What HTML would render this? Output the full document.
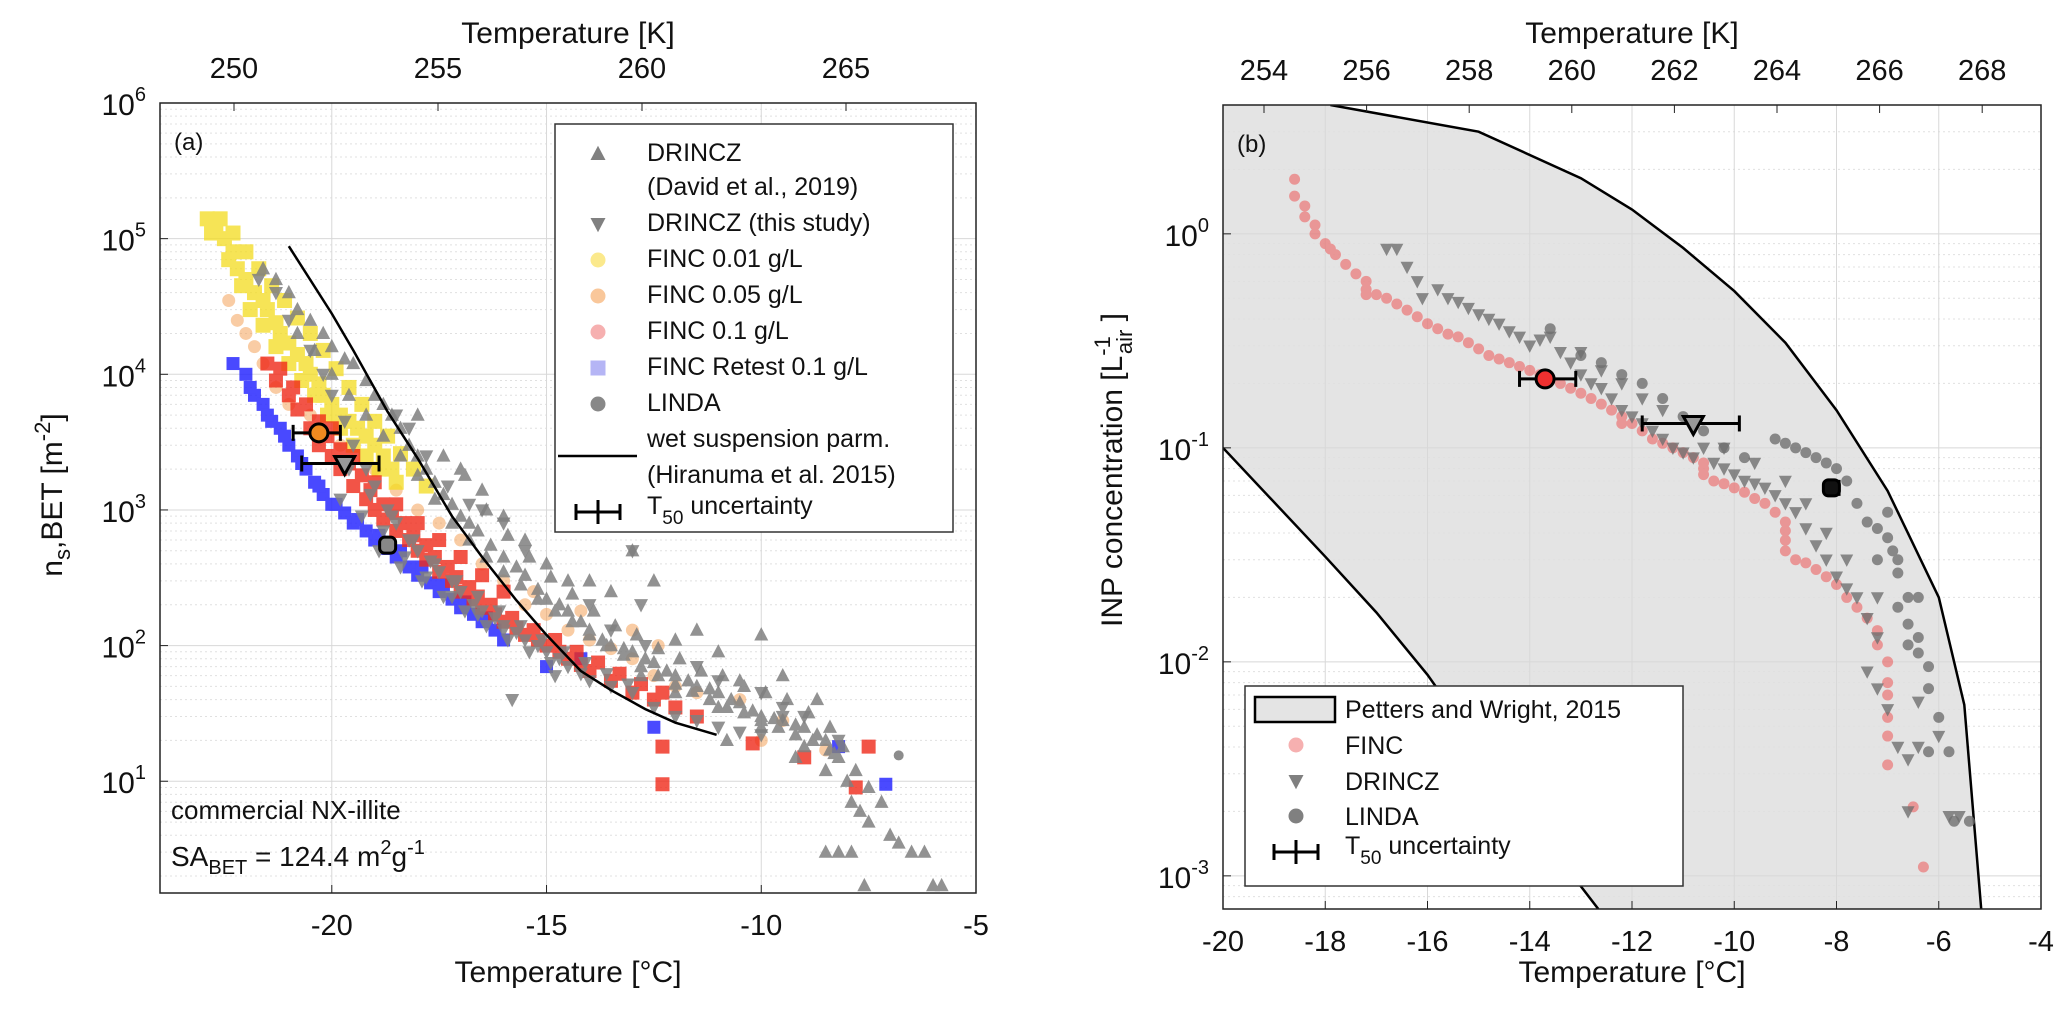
<!DOCTYPE html>
<html><head><meta charset="utf-8"><style>
html,body{margin:0;padding:0;background:#fff;}
svg{display:block;font-family:"Liberation Sans",Arial,sans-serif;}
</style></head><body>
<svg id="fig" width="2067" height="1034" viewBox="0 0 2067 1034"></svg>
<script>
// ---------- Panel (a) data: [T °C, ns value] ----------
const aDavid=[[-21.6,6e4],[-21.3,5e4],[-21,4e4],[-20.8,3e4],[-20.5,2.5e4],[-20.2,2e4],[-20,1.6e4],[-19.7,1.3e4],[-19.5,1.2e4],[-19.2,9e3],[-19,7e3],[-18.8,6e3],[-18.6,5e3],[-18.4,4e3],[-18.2,3e3],[-18,2.5e3],[-17.8,2e3],[-17.6,1.6e3],[-17.4,1.3e3],[-17.2,1.1e3],[-17,900],[-16.8,800],[-16.6,700],[-16.3,550],[-16,450],[-15.7,380],[-15.5,330],[-15.2,260],[-15,220],[-14.7,200],[-14.5,180],[-14.2,150],[-14,130],[-13.7,110],[-13.5,100],[-13.2,95],[-13,90],[-12.7,80],[-12.5,75],[-12.2,65],[-12,60],[-11.7,55],[-11.5,50],[-11.2,48],[-11,45],[-10.7,40],[-10.5,38],[-10.2,33],[-10,30],[-9.7,29],[-9.5,28],[-9.2,26],[-9,25],[-8.7,22],[-8.5,20],[-8.3,16],[-8.2,15],[-8,10],[-7.9,7],[-7.7,6],[-7.5,5],[-7.2,7],[-7,4],[-6.8,3.5],[-6.5,3],[-6.2,3],[-6,1.7],[-5.8,1.7],[-7.6,1.7],[-8.2,3],[-8.5,3],[-7.9,3],[-13,500],[-13.5,250],[-12.5,300],[-11.5,130],[-10,120],[-11,90],[-12,110],[-14,300],[-15,400],[-16,900],[-17,2e3],[-18,5e3],[-16.5,1.4e3],[-15.5,600],[-14.5,300],[-9.5,60],[-8.7,40],[-10.5,55],[-12.8,60],[-12,45],[-11,35],[-10,25],[-9,18],[-8.5,12],[-9.2,15],[-10.8,20],
[-20.8,2e4],[-20.4,1.5e4],[-20,1e4],[-19.6,7e3],[-19.2,5e3],[-18.8,3.5e3],[-18.4,2.5e3],[-18,1.8e3],[-17.6,1.2e3],[-17.2,800],[-16.8,600],[-16.4,450],[-16,350],[-15.6,280],[-15.2,220],[-14.8,180],[-14.4,150],[-14,120],[-13.6,100],[-13.2,85],[-12.8,70],[-12.4,60],[-12,52],[-11.6,46],[-11.2,40],[-10.8,35],[-10.4,32],[-10,28],[-9.6,25],[-9.2,22],[-8.8,20],[-8.4,17],[-17.4,2.5e3],[-16.9,1.8e3],[-16.4,1e3],[-15.9,650],[-15.4,450],[-14.9,320],[-14.4,240],[-13.9,180],[-13.4,140],[-12.9,120],[-12.4,95],[-11.9,80],[-11.4,65],[-10.9,60],[-10.4,50],[-9.9,45],[-9.4,40],[-8.9,32],[-8.4,25],[-8.1,18],[-7.8,12],[-7.5,9]];
const aThis=[[-21.7,5e4],[-21.3,4e4],[-21,2.5e4],[-20.5,1.5e4],[-20.2,1e4],[-20,7e3],[-19.7,4.5e3],[-19.5,3e3],[-19.2,2e3],[-19,1.5e3],[-18.7,1e3],[-18.5,800],[-18.2,600],[-18,500],[-17.7,420],[-17.5,350],[-17.2,300],[-17,250],[-16.7,200],[-16.5,180],[-16.2,160],[-16,140],[-15.7,125],[-15.5,110],[-15.2,100],[-15,90],[-14.7,80],[-14.5,70],[-14.2,62],[-14,55],[-13.5,50],[-13,45],[-12.5,35],[-12,30],[-11.5,28],[-11,25],[-10.5,23],[-10,22],[-9.5,30],[-9,30],[-8.2,20],[-18.5,5e3],[-18.2,4e3],[-17.8,2.5e3],[-17.3,1.5e3],[-16.8,1.1e3],[-16.5,1e3],[-16,800],[-15.5,500],[-13,500],[-12.7,100],[-12.8,200],[-15.8,40],[-14.8,60],[-14,200],[-13.5,130],[-11.5,70],[-11,55],[-10,45],[-9.5,35],[-19.8,1.2e3],[-19.3,900],[-18.8,700],[-18.3,450],[-17.8,320],[-17.2,230],[-16.6,170],[-16,130],
[-19.6,2e3],[-19.1,1.3e3],[-18.6,900],[-18.1,600],[-17.6,400],[-17.1,300],[-16.6,230],[-16.1,180],[-15.6,140],[-15.1,110],[-14.6,90],[-14.1,75],[-13.6,62],[-13.1,52],[-18.9,500],[-18.4,380],[-17.9,300],[-17.4,230],[-16.9,180],[-16.4,140],[-15.9,110],[-15.4,90],[-14.9,75]];
const aF001=[[-22.9,1.4e5],[-22.7,1.2e5],[-22.5,1e5],[-22.3,8e4],[-22.2,6e4],[-22,5e4],[-21.8,4e4],[-21.6,3.5e4],[-21.5,3e4],[-21.3,2.4e4],[-21.2,2e4],[-21,1.7e4],[-20.8,1.4e4],[-20.6,1.2e4],[-20.5,1e4],[-20.3,8.5e3],[-20.2,7e3],[-20,6e3],[-19.8,5e3],[-19.6,4.5e3],[-19.4,4e3],[-19.2,3.5e3],[-19,3e3],[-18.8,2.5e3],[-18.6,2e3],[-22.6,1.4e5],[-22.3,1.1e5],[-22,8e4],[-21.7,6e4],[-21.4,4.5e4],[-21.1,3.5e4],[-20.8,2.6e4],[-20.5,2e4],[-20.2,1.5e4],[-19.9,1.1e4],[-19.6,8e3],[-19.3,6e3],[-19,4.5e3],[-18.7,3.5e3],[-18.4,2.6e3],[-18.1,2e3],[-17.8,1.5e3],
[-22.8,1.1e5],[-22.4,7e4],[-22.1,4.5e4],[-21.9,3e4],[-21.6,2.3e4],[-21.3,1.6e4],[-21,1.2e4],[-20.7,9e3],[-20.4,7e3],[-20.1,5e3],[-19.8,4e3],[-19.5,3e3],[-19.2,2.5e3],[-18.9,2e3],[-18.5,1.6e3]];
const aF005=[[-22.4,3.5e4],[-22.2,2.5e4],[-22,2e4],[-21.8,1.6e4],[-21.6,1.2e4],[-21.3,8e3],[-21,6e3],[-17.5,800],[-17,600],[-16.5,400],[-16,300],[-15.5,200],[-15,170],[-14.5,130],[-14,110],[-13.5,95],[-13,80],[-12.5,60],[-12,50],[-11.5,45],[-10.5,40],[-10,20],[-9.5,28],[-8.5,17],[-13,130],[-12.4,100],[-15.3,250],[-14.2,180],[-19,2e3],[-18.5,1.4e3],[-18,1e3],[-19.8,3e3],[-20.5,5e3]];
const aF01=[[-21.5,1.2e4],[-21.3,9e3],[-21,7e3],[-20.8,5.5e3],[-20.5,4e3],[-20.3,3e3],[-20,2.5e3],[-19.8,2e3],[-19.5,1.5e3],[-19.2,1.2e3],[-19,1e3],[-18.8,850],[-18.5,700],[-18.2,600],[-18,500],[-17.8,430],[-17.5,350],[-17.2,300],[-17,250],[-16.7,220],[-16.5,190],[-16.2,170],[-16,150],[-15.7,135],[-15.5,120],[-15.2,110],[-15,100],[-14.7,90],[-14.5,80],[-14.2,72],[-14,65],[-13.5,55],[-13,45],[-12.5,40],[-12,35],[-11.5,30],[-12.3,9.5],[-12.3,18],[-10.2,19],[-9,15],[-7.5,18],[-7.8,9],[-20,4e3],[-19.5,2.5e3],[-19,1.6e3],[-18.5,1.1e3],[-18,800],[-17.5,600],[-17,450],[-16.5,330],[-16,250],
[-21.2,1.1e4],[-20.9,8e3],[-20.6,6e3],[-20.3,4.5e3],[-20.1,3.5e3],[-19.8,2.8e3],[-19.6,2.2e3],[-19.3,1.8e3],[-19.1,1.4e3],[-18.8,1.1e3],[-18.6,950],[-18.3,800],[-18.1,650],[-17.8,550],[-17.6,450],[-17.3,380],[-17.1,320],[-16.8,270],[-16.6,230],[-16.3,200],[-15.8,160],[-15.3,130],[-14.8,110],[-14.3,90],[-13.8,75],[-13.3,62],[-12.8,52],[-12.3,45]];
const aRet=[[-22.3,1.2e4],[-22,1e4],[-21.8,7e3],[-21.6,6e3],[-21.4,4.5e3],[-21.2,4e3],[-21,3e3],[-20.8,2.5e3],[-20.6,2e3],[-20.4,1.6e3],[-20.2,1.3e3],[-20,1.1e3],[-19.7,950],[-19.5,800],[-19.2,700],[-19,600],[-18.7,520],[-18.5,450],[-18.2,380],[-18,330],[-17.7,290],[-17.5,250],[-17.2,220],[-17,190],[-16.7,170],[-16.5,150],[-16.2,130],[-16,110],[-15,70],[-14.2,80],[-12.5,25],[-8.2,18],[-7.1,9.5],
[-21.9,8e3],[-21.5,5e3],[-21.1,3.5e3],[-20.7,2.2e3],[-20.3,1.5e3],[-19.9,1.1e3],[-19.4,850],[-18.9,650],[-18.4,500],[-17.9,380],[-17.4,280],[-16.9,210],[-16.4,160]];
const aLinda=[[-6.8,15.5]];
const aWetT=[-21,-20,-19.5,-18.7,-18,-17.2,-16.5,-15.7,-15,-14.2,-13.5,-12.7,-12,-11.04];
const aWetV=[8.8e4,2.8e4,1.5e4,5.3e3,2.4e3,900,450,215,120,65,47,34,27,22];
const aT50T=[-20.3,-19.7,-18.7];const aT50V=[3700,2200,550];
const aT50Lo=[-20.9,-20.7,-18.8];const aT50Hi=[-19.8,-18.9,-18.6];
// ---------- Panel (b) data ----------
const bFinc=[[-18.6,1.8],[-18.6,1.5],[-18.4,1.35],[-18.4,1.2],[-18.2,1.1],[-18.2,1.0],[-18,0.9],[-17.9,0.85],[-17.8,0.8],[-17.6,0.72],[-17.4,0.65],[-17.2,0.6],[-17.2,0.55],[-17.2,0.52],[-17,0.52],[-16.8,0.5],[-16.6,0.47],[-16.4,0.44],[-16.2,0.41],[-16,0.38],[-15.8,0.36],[-15.6,0.34],[-15.4,0.33],[-15.2,0.31],[-15,0.29],[-14.8,0.27],[-14.6,0.26],[-14.4,0.25],[-14.2,0.24],[-14,0.23],[-13.8,0.22],[-13.6,0.21],[-13.4,0.2],[-13.2,0.19],[-13,0.18],[-12.8,0.17],[-12.6,0.16],[-12.4,0.15],[-12.2,0.14],[-12.2,0.13],[-12,0.13],[-11.8,0.12],[-11.6,0.11],[-11.4,0.105],[-11.2,0.1],[-11,0.095],[-10.8,0.09],[-10.6,0.085],[-10.6,0.08],[-10.6,0.075],[-10.4,0.07],[-10.2,0.068],[-10,0.065],[-9.8,0.062],[-9.6,0.058],[-9.4,0.055],[-9.2,0.05],[-9,0.045],[-9,0.041],[-9,0.037],[-9,0.033],[-8.8,0.03],[-8.6,0.029],[-8.4,0.027],[-8.2,0.025],[-8,0.023],[-7.8,0.02],[-7.6,0.018],[-7.4,0.016],[-7.2,0.014],[-7.2,0.012],[-7,0.01],[-7,0.008],[-7,0.007],[-7,0.0055],[-7,0.0045],[-7,0.0033],[-6.5,0.0021],[-6.3,0.0011]];
const bDrincz=[[-16.8,0.85],[-16.6,0.85],[-16.4,0.7],[-16.2,0.6],[-16.1,0.5],[-15.8,0.55],[-15.6,0.5],[-15.4,0.48],[-15.2,0.45],[-15,0.42],[-14.8,0.4],[-14.6,0.38],[-14.4,0.35],[-14.2,0.33],[-14,0.3],[-13.8,0.32],[-13.6,0.33],[-13.4,0.28],[-13.2,0.25],[-13,0.22],[-12.8,0.2],[-12.6,0.19],[-12.4,0.17],[-12.2,0.15],[-12,0.14],[-11.8,0.13],[-11.6,0.12],[-11.4,0.11],[-11.2,0.1],[-11,0.095],[-10.8,0.09],[-10.6,0.1],[-10.4,0.085],[-10.2,0.08],[-10,0.075],[-9.8,0.07],[-9.6,0.068],[-9.4,0.065],[-9.2,0.06],[-9,0.055],[-8.8,0.05],[-8.6,0.042],[-8.4,0.035],[-8.2,0.03],[-8,0.025],[-7.8,0.022],[-7.6,0.02],[-7.4,0.016],[-7.2,0.013],[-7.4,0.009],[-7.2,0.0075],[-7,0.006],[-6.8,0.004],[-6.6,0.0035],[-6.6,0.002],[-6.4,0.004],[-6.4,0.0065],[-6,0.0045],[-5.8,0.0019],[-5.6,0.0019],[-13,0.28],[-12.6,0.23],[-12.2,0.2],[-11.8,0.17],[-11.4,0.15],[-10.2,0.1],[-9.6,0.085],[-9,0.07],[-8.6,0.055],[-8.2,0.04],[-7.8,0.03],[-7.2,0.02]];
const bLinda=[[-13.6,0.36],[-13,0.27],[-12.6,0.25],[-12.2,0.22],[-11.8,0.2],[-11.4,0.17],[-11,0.14],[-10.6,0.12],[-10.2,0.1],[-9.8,0.09],[-9.2,0.11],[-9,0.105],[-8.8,0.1],[-8.6,0.095],[-8.4,0.09],[-8.2,0.085],[-8,0.08],[-7.8,0.07],[-7.6,0.055],[-7.4,0.045],[-7.2,0.042],[-7,0.038],[-6.9,0.033],[-6.8,0.03],[-6.8,0.026],[-6.6,0.02],[-6.6,0.015],[-6.4,0.013],[-6.4,0.011],[-6.2,0.0095],[-6.2,0.0075],[-6,0.0055],[-6.2,0.0038],[-5.8,0.0038],[-5.7,0.0018],[-5.4,0.0018],[-6.4,0.02],[-6.6,0.012],[-7,0.05],[-7.2,0.03],[-6.8,0.018]];
const bUpperT=[-17.9,-15,-13,-12,-11,-10,-9,-8,-7,-6,-5.5,-5.17];
const bUpperV=[4.0,3.0,1.82,1.3,0.86,0.54,0.31,0.15,0.063,0.02,0.0063,0.0007];
const bLowerT=[-20,-18,-17,-16,-14.9,-13.9,-12.66];
const bLowerV=[0.1,0.031,0.017,0.0087,0.0037,0.0017,0.0007];
const bT50T=[-13.7,-10.8,-8.1];const bT50V=[0.21,0.13,0.065];
const bT50Lo=[-14.2,-11.8,-8.2];const bT50Hi=[-13.1,-9.9,-7.95];
const aXTicks=[-20,-15,-10,-5];const aKTicks=[250,255,260,265];
const bXTicks=[-20,-18,-16,-14,-12,-10,-8,-6,-4];const bKTicks=[254,256,258,260,262,264,266,268];

const NS='http://www.w3.org/2000/svg';
const svg=document.getElementById('fig');
function el(tag,attrs,parent){const e=document.createElementNS(NS,tag);for(const k in attrs)e.setAttribute(k,attrs[k]);(parent||svg).appendChild(e);return e;}
function txt(x,y,s,size,anchor,parent){const t=el('text',{x:x,y:y,'font-size':size,'text-anchor':anchor||'middle',fill:'#111'},parent);t.innerHTML=s;return t;}

const A={x0:160,x1:976,y0:103,y1:893,tmin:-24,tmax:-5,lmin:Math.log10(1.5),lmax:6};
const B={x0:1223,x1:2041,y0:105,y1:909,tmin:-20,tmax:-4,lmin:Math.log10(7e-4),lmax:Math.log10(4)};
function X(P,t){return P.x0+(t-P.tmin)/(P.tmax-P.tmin)*(P.x1-P.x0);}
function Y(P,v){return P.y1-(Math.log10(v)-P.lmin)/(P.lmax-P.lmin)*(P.y1-P.y0);}

function grid(P,name,xt,decMin,decMax){
  const g=el('g',{});
  
  
  for(let d=decMin;d<=decMax;d++){for(let m=1;m<10;m++){const v=m*Math.pow(10,d);const y=Y(P,v);if(y<P.y0||y>P.y1)continue;
    el('line',{x1:P.x0,x2:P.x1,y1:y,y2:y,stroke:m==1?'#d8d8d8':'#e0e0e0','stroke-width':1,'stroke-dasharray':m==1?'':'2,3'},g);}}
  xt.forEach(t=>{const x=X(P,t);if(x>P.x0&&x<P.x1)el('line',{x1:x,x2:x,y1:P.y0,y2:P.y1,stroke:'#d8d8d8','stroke-width':1},g);});
}
function frame(P,name,xt,kt,kx,ylabels){
  const g=el('g',{});
  
  
  el('rect',{x:P.x0,y:P.y0,width:P.x1-P.x0,height:P.y1-P.y0,fill:'none',stroke:'#222','stroke-width':1.5},g);
  xt.forEach(t=>{const x=X(P,t);el('line',{x1:x,x2:x,y1:P.y1,y2:P.y1-8,stroke:'#222'},g);txt(x,P.y1+42,String(t),29,'middle',g);});
  kt.forEach((k,i)=>{const x=kx(k);el('line',{x1:x,x2:x,y1:P.y0,y2:P.y0+8,stroke:'#222'},g);txt(x,P.y0-25,k,29,'middle',g);});
  ylabels.forEach(d=>{const y=Y(P,Math.pow(10,d));el('line',{x1:P.x0,x2:P.x0+8,y1:y,y2:y,stroke:'#222'},g);
    txt(P.x0-14,y+12,'10<tspan dy="-14" font-size="20">'+d+'</tspan>',30,'end',g);});
}
function scatter(P,pts,shape,color,op,size,name){
  const g=el('g',{opacity:op});
  
  
  pts.forEach(p=>{const x=X(P,p[0]),y=Y(P,p[1]);if(y<P.y0||y>P.y1)return;marker(g,x,y,shape,color,size);});
}
function marker(g,x,y,shape,color,s){
  if(shape=='o')el('circle',{cx:x,cy:y,r:s/2,fill:color},g);
  else if(shape=='s')el('rect',{x:x-s/2,y:y-s/2,width:s,height:s,fill:color},g);
  else if(shape=='^')el('polygon',{points:`${x},${y-s*0.55} ${x-s/2},${y+s*0.4} ${x+s/2},${y+s*0.4}`,fill:color},g);
  else el('polygon',{points:`${x},${y+s*0.55} ${x-s/2},${y-s*0.4} ${x+s/2},${y-s*0.4}`,fill:color},g);
}
function errbars(P,T,V,Lo,Hi,shapes,fills,name){
  const g=el('g',{});
  
  
  T.forEach((t,i)=>{const x=X(P,t),y=Y(P,V[i]),a=X(P,Lo[i]),b=X(P,Hi[i]);
    el('line',{x1:a,x2:b,y1:y,y2:y,stroke:'#000','stroke-width':3},g);
    el('line',{x1:a,x2:a,y1:y-8,y2:y+8,stroke:'#000','stroke-width':3},g);
    el('line',{x1:b,x2:b,y1:y-8,y2:y+8,stroke:'#000','stroke-width':3},g);
    const s=shapes[i];
    if(s=='o')el('circle',{cx:x,cy:y,r:9,fill:fills[i],stroke:'#000','stroke-width':3},g);
    else if(s=='v')el('polygon',{points:`${x},${y+11} ${x-10},${y-7} ${x+10},${y-7}`,fill:fills[i],stroke:'#000','stroke-width':3},g);
    else el('rect',{x:x-8,y:y-8,width:16,height:16,rx:5,fill:fills[i],stroke:'#000','stroke-width':3},g);
  });
}
function line(P,T,V,name,parent){const d=T.map((t,i)=>(i?'L':'M')+X(P,t).toFixed(1)+','+Y(P,V[i]).toFixed(1)).join(' ');
  const p=el('path',{d:d,fill:'none',stroke:'#000','stroke-width':2.5},parent);
  
  return p;}

// ===== Panel A =====
const clipA=el('clipPath',{id:'ca'});el('rect',{x:A.x0,y:A.y0,width:A.x1-A.x0,height:A.y1-A.y0},clipA);
grid(A,'panel-a',aXTicks,0,6);
scatter(A,aF005,'o','#f5a35a',0.55,13,'finc-005-points');
scatter(A,aF001,'s','#f4dc1e',0.75,15,'finc-001-points');
scatter(A,aRet,'s','#2a2aff',0.85,13,'finc-retest-points');
scatter(A,aF01,'s','#f02a1a',0.8,14,'finc-01-points');
scatter(A,aThis,'v','#808080',0.85,14,'drincz-this-study-points');
scatter(A,aDavid,'^','#808080',0.85,14,'drincz-david-points');
scatter(A,aLinda,'o','#808080',0.9,10,'linda-points');
line(A,aWetT,aWetV,'wet-suspension-curve');
errbars(A,aT50T,aT50V,aT50Lo,aT50Hi,['o','v','s'],['#f08a20','#999','#888'],'panel-a-t50-markers');
frame(A,'panel-a',aXTicks,aKTicks,k=>234+(k-250)*40.8,[1,2,3,4,5,6]);
txt(568,43,'Temperature [K]',30,'middle');
txt(568,982,'Temperature [°C]',30,'middle');
{const t=txt(0,0,'n<tspan dy="8" font-size="22">s</tspan><tspan dy="-8">,BET [m</tspan><tspan dy="-12" font-size="22">-2</tspan><tspan dy="12">]</tspan>',30,'middle');
 t.setAttribute('transform','translate(62,495) rotate(-90)');}
txt(174,150,'(a)',24,'start');
txt(171,819,'commercial NX-illite',26,'start');
txt(171,866,'SA<tspan dy="8" font-size="20">BET</tspan><tspan dy="-8"> = 124.4 m</tspan><tspan dy="-12" font-size="20">2</tspan><tspan dy="12">g</tspan><tspan dy="-12" font-size="20">-1</tspan>',28,'start');
{const g=el('g',{});
 el('rect',{x:555,y:124,width:398,height:408,fill:'#fff',stroke:'#333','stroke-width':1.5},g);
 const rows=[['^','#808080',152,'DRINCZ'],[null,null,186,'(David et al., 2019)'],['v','#808080',222,'DRINCZ (this study)'],['o','#fbe98c',258,'FINC 0.01 g/L'],['o','#f9c79a',294,'FINC 0.05 g/L'],['o','#f6b0b0',330,'FINC 0.1 g/L'],['s','#b5b5f5',366,'FINC Retest 0.1 g/L'],['o','#888',402,'LINDA'],[null,null,438,'wet suspension parm.'],[null,null,474,'(Hiranuma et al. 2015)']];
 rows.forEach(r=>{if(r[0])marker(g,598,r[2]+2,r[0],r[1],15);const t=txt(647,r[2]+9,r[3],25,'start',g);});
 el('line',{x1:558,x2:637,y1:456,y2:456,stroke:'#000','stroke-width':2.5},g);
 el('line',{x1:576,x2:620,y1:512,y2:512,stroke:'#000','stroke-width':3},g);el('line',{x1:598,x2:598,y1:500,y2:524,stroke:'#000','stroke-width':3},g);
 el('line',{x1:576,x2:576,y1:504,y2:520,stroke:'#000','stroke-width':3},g);el('line',{x1:620,x2:620,y1:504,y2:520,stroke:'#000','stroke-width':3},g);
 txt(647,514,'T<tspan dy="10" font-size="19">50</tspan><tspan dy="-10"> uncertainty</tspan>',25,'start',g);}

// ===== Panel B =====
const clipB=el('clipPath',{id:'cb'});el('rect',{x:B.x0,y:B.y0,width:B.x1-B.x0,height:B.y1-B.y0},clipB);
{const g=el('g',{'clip-path':'url(#cb)'});
 let d='M'+X(B,bUpperT[0])+','+B.y0+' '+bUpperT.map((t,i)=>'L'+X(B,t).toFixed(1)+','+Y(B,bUpperV[i]).toFixed(1)).join(' ');
 d+=' L'+X(B,bLowerT[bLowerT.length-1])+','+B.y1+' '+bLowerT.slice().reverse().map((t,i)=>'L'+X(B,t).toFixed(1)+','+Y(B,bLowerV[bLowerV.length-1-i]).toFixed(1)).join(' ')+' L'+B.x0+','+B.y0+' Z';
 const p=el('path',{d:d,fill:'#e4e4e4',stroke:'none'},g);}
grid(B,'panel-b',bXTicks,-4,1);
{const g=el('g',{'clip-path':'url(#cb)'});
 line(B,bUpperT,bUpperV,'petters-wright-upper',g);line(B,bLowerT,bLowerV,'petters-wright-lower',g);}
scatter(B,bFinc,'o','#f03a3a',0.45,11,'finc-points');
scatter(B,bDrincz,'v','#707070',0.8,13,'drincz-points');
scatter(B,bLinda,'o','#707070',0.8,11,'linda-points');
errbars(B,bT50T,bT50V,bT50Lo,bT50Hi,['o','v','s'],['#f03030','#999','#111'],'panel-b-t50-markers');
frame(B,'panel-b',bXTicks,bKTicks,k=>1264+(k-254)*51.3,[-3,-2,-1,0]);
txt(1632,43,'Temperature [K]',30,'middle');
txt(1632,982,'Temperature [°C]',30,'middle');
{const t=txt(0,0,'INP concentration [L<tspan dy="-12" font-size="22">-1</tspan><tspan dx="-18" dy="22" font-size="22">air</tspan><tspan dy="-10"> ]</tspan>',30,'middle');
 t.setAttribute('transform','translate(1122,470) rotate(-90)');}
txt(1237,152,'(b)',24,'start');
{const g=el('g',{});
 el('rect',{x:1245,y:686,width:438,height:200,fill:'#fff',stroke:'#333','stroke-width':1.5},g);
 el('rect',{x:1255,y:697,width:80,height:25,fill:'#e4e4e4',stroke:'#000','stroke-width':2.5},g);
 const rows=[[null,null,709,'Petters and Wright, 2015'],['o','#f6b0b0',745,'FINC'],['v','#808080',781,'DRINCZ'],['o','#808080',816,'LINDA']];
 rows.forEach(r=>{if(r[0])marker(g,1296,r[2],r[0],r[1],15);const t=txt(1345,r[2]+9,r[3],25,'start',g);});
 el('line',{x1:1274,x2:1318,y1:852,y2:852,stroke:'#000','stroke-width':3},g);el('line',{x1:1296,x2:1296,y1:840,y2:864,stroke:'#000','stroke-width':3},g);
 el('line',{x1:1274,x2:1274,y1:844,y2:860,stroke:'#000','stroke-width':3},g);el('line',{x1:1318,x2:1318,y1:844,y2:860,stroke:'#000','stroke-width':3},g);
 txt(1345,854,'T<tspan dy="10" font-size="19">50</tspan><tspan dy="-10"> uncertainty</tspan>',25,'start',g);}
</script>
</body></html>
